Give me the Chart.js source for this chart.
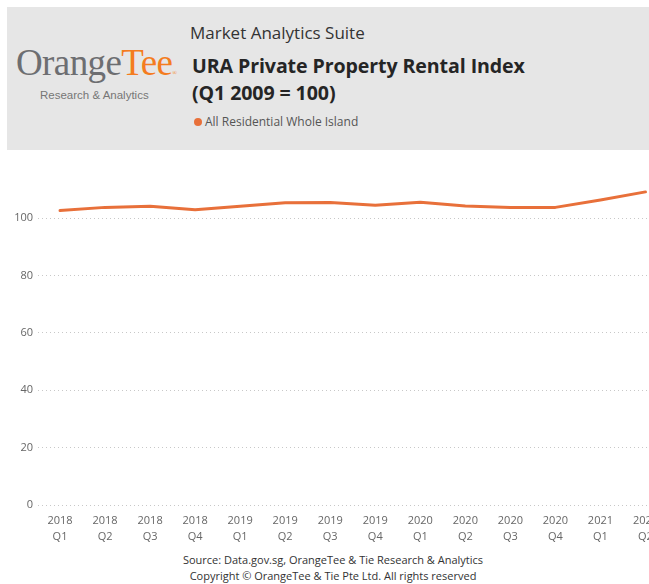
<!DOCTYPE html>
<html>
<head>
<meta charset="utf-8">
<script src="https://cdn.jsdelivr.net/npm/chart.js@4"></script>
<style>
  html, body { margin:0; padding:0; width:649px; height:584px; overflow:hidden; background:#fff; font-family:"Open Sans","Noto Sans",sans-serif; }
  #hdr { position:absolute; left:7px; top:7px; width:650px; height:143px; background:#e6e6e6; }
  #logo { position:absolute; left:9px; top:37px; font-family:"Liberation Serif","DejaVu Serif",serif; font-size:37px; color:#6d6e71; letter-spacing:-0.6px; line-height:1; }
  #logo span.t { color:#f47c20; }
  #logo sup { font-size:6px; color:#f47c20; vertical-align:baseline; }
  #logosub { position:absolute; left:33px; top:82px; font-family:"Liberation Sans",Arial,sans-serif; font-size:11.5px; color:#767676; }
  #suite { position:absolute; left:183px; top:14px; font-size:17px; color:#333; }
  #title { position:absolute; left:185px; top:45px; font-size:19.6px; font-weight:bold; color:#252525; line-height:27px; letter-spacing:-0.1px; }
  #leg { position:absolute; left:187px; top:106px; font-size:12px; color:#555; }
  #leg i { display:inline-block; width:8px; height:8px; border-radius:50%; background:#e8703a; margin-right:3px; vertical-align:0px; }
  #wrap { position:absolute; left:0; top:160px; width:668px; height:385px; }
  #foot { position:absolute; left:0; top:552px; width:666px; text-align:center; font-size:11px; color:#333; line-height:16px; }
</style>
</head>
<body>
<div id="hdr">
  <div id="logo">Orange<span class="t">Tee</span><sup>®</sup></div>
  <div id="logosub">Research &amp; Analytics</div>
  <div id="suite">Market Analytics Suite</div>
  <div id="title">URA Private Property Rental Index<br>(Q1 2009 = 100)</div>
  <div id="leg"><i></i>All Residential Whole Island</div>
</div>
<div id="wrap"><canvas id="c" width="668" height="385"></canvas></div>
<div id="foot">Source: Data.gov.sg, OrangeTee &amp; Tie Research &amp; Analytics<br>Copyright © OrangeTee &amp; Tie Pte Ltd. All rights reserved</div>
<script>
const years = ["2018","2018","2018","2018","2019","2019","2019","2019","2020","2020","2020","2020","2021","2021"];
const quarters = ["Q1","Q2","Q3","Q4","Q1","Q2","Q3","Q4","Q1","Q2","Q3","Q4","Q1","Q2"];
const rentalIndex = [102.7,103.8,104.2,103.0,104.2,105.4,105.5,104.5,105.6,104.3,103.8,103.8,106.4,109.2];
const yTicks = [0,20,40,60,80,100];
const seriesName = "All Residential Whole Island";

const labels = years.map((y,i)=>[y, quarters[i]]);

new Chart(document.getElementById('c'), {
  type:'line',
  data:{ labels, datasets:[{ label:seriesName, data:rentalIndex, borderColor:'#e8703a', borderWidth:3, pointRadius:0, tension:0, borderJoinStyle:'round', borderCapStyle:'round', clip:false }]},
  options:{
    responsive:false, animation:false,
    layout:{ padding:{ top:29.6, right:0, bottom:0, left:0 } },
    plugins:{ legend:{display:false}, tooltip:{enabled:false} },
    scales:{
      x:{ offset:true,
        grid:{ display:false, drawTicks:false },
        border:{ display:false },
        ticks:{ color:'#666', font:{ family:'"Open Sans","Noto Sans",sans-serif', size:11, lineHeight:'16px' }, padding:8, maxRotation:0, autoSkip:false },
        afterFit:(a)=>{ a.height = 40; }
      },
      y:{ min:0, max:110,
        afterBuildTicks:(a)=>{ a.ticks = yTicks.map(v=>({value:v})); },
        grid:{ color:'#c8c8c8', lineWidth:1, drawTicks:false },
        border:{ display:false, dash:[1,3] },
        ticks:{ color:'#666', font:{ family:'"Open Sans","Noto Sans",sans-serif', size:11 }, padding:4.5 },
        afterFit:(a)=>{ a.width = 37.5; }
      }
    }
  }
});
</script>
</body>
</html>
